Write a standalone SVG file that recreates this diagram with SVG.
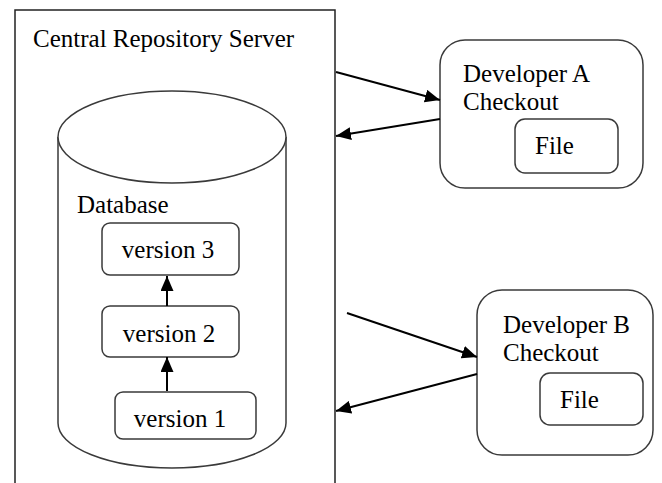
<svg xmlns="http://www.w3.org/2000/svg" width="662" height="483" viewBox="0 0 662 483">
  <style>
    .box { fill: #fff; stroke: #3a3a3a; stroke-width: 1.5; }
    .edge { stroke: #000; stroke-width: 2; fill: none; }
  </style>
  <defs>
    <marker id="arrowHead" viewBox="0 0 15 13" refX="15" refY="6.5" markerWidth="15" markerHeight="13" markerUnits="userSpaceOnUse" orient="auto">
      <path d="M0,0 L15,6.5 L0,13 z" fill="#000"/>
    </marker>
  </defs>
  <rect width="662" height="483" fill="#fff"/>

  <g font-family="Liberation Serif, Times New Roman, serif" font-size="25" fill="#000">
    <!-- server: frame open at the bottom -->
    <g id="server">
      <path d="M15,490 L15,10 L335,10 L335,490" fill="none" stroke="#222" stroke-width="1.5"/>
      <text x="33" y="47">Central Repository Server</text>
    </g>

    <!-- database cylinder -->
    <g id="database">
      <path d="M58,137 L58,423 A114,45 0 0 0 286,423 L286,137" class="box"/>
      <ellipse cx="172" cy="137" rx="114" ry="46" class="box"/>
      <text x="77" y="213">Database</text>
    </g>

    <g id="version3">
      <rect x="102" y="223" width="137" height="52" rx="8" class="box"/>
      <text x="168" y="258" text-anchor="middle">version 3</text>
    </g>
    <g id="version2">
      <rect x="102" y="306" width="137" height="51" rx="8" class="box"/>
      <text x="169" y="342" text-anchor="middle">version 2</text>
    </g>
    <g id="version1">
      <rect x="115" y="392" width="141" height="47" rx="8" class="box"/>
      <text x="180" y="427" text-anchor="middle">version 1</text>
    </g>

    <g id="devA">
      <rect x="440" y="40" width="203" height="148" rx="25" class="box"/>
      <text x="463" y="82">Developer A</text>
      <text x="463" y="110">Checkout</text>
      <g id="fileA">
        <rect x="515" y="119" width="103" height="54" rx="10" class="box"/>
        <text x="535" y="154">File</text>
      </g>
    </g>

    <g id="devB">
      <rect x="477" y="290" width="176" height="165" rx="25" class="box"/>
      <text x="503" y="333">Developer B</text>
      <text x="503" y="361">Checkout</text>
      <g id="fileB">
        <rect x="540" y="373" width="103" height="52" rx="10" class="box"/>
        <text x="560" y="408">File</text>
      </g>
    </g>
  </g>

  <g id="connectors">
    <line x1="167" y1="391" x2="167" y2="357" class="edge" marker-end="url(#arrowHead)"/>
    <line x1="167" y1="306" x2="167" y2="276" class="edge" marker-end="url(#arrowHead)"/>
    <line x1="336" y1="72" x2="440" y2="100" class="edge" marker-end="url(#arrowHead)"/>
    <line x1="440" y1="119" x2="336" y2="136" class="edge" marker-end="url(#arrowHead)"/>
    <line x1="347" y1="313" x2="477" y2="357" class="edge" marker-end="url(#arrowHead)"/>
    <line x1="477" y1="374" x2="336" y2="411" class="edge" marker-end="url(#arrowHead)"/>
  </g>
</svg>
